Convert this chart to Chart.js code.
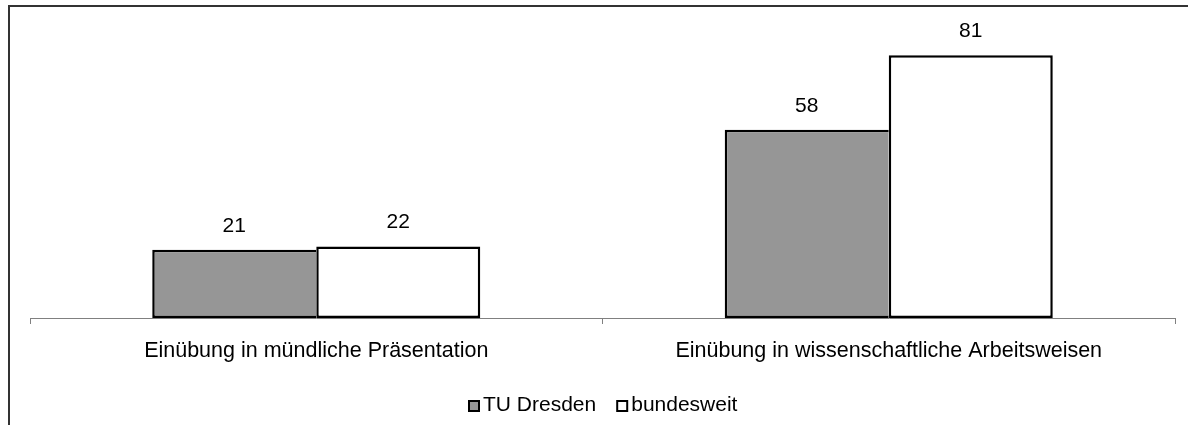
<!DOCTYPE html>
<html>
<head>
<meta charset="utf-8">
<script src="https://cdn.jsdelivr.net/npm/chart.js@4/dist/chart.umd.min.js"></script>
<style>
  html, body { margin: 0; padding: 0; background: #fff; overflow: hidden; }
  #wrap { position: relative; width: 1188px; height: 425px; }
  #frame { position: absolute; left: 8px; top: 5px; width: 1200px; height: 440px;
           border-left: 2px solid #333; border-top: 2px solid #333; box-sizing: border-box; }
  canvas { position: absolute; left: 0; top: 0; }
</style>
</head>
<body>
<div id="wrap">
  <div id="frame"></div>
  <canvas id="c" width="1188" height="425"></canvas>
</div>
<script>
const categories = ["Einübung in mündliche Präsentation", "Einübung in wissenschaftliche Arbeitsweisen"];
const seriesNames = ["TU Dresden", "bundesweit"];
const tuDresden = [21, 58];
const bundesweit = [22, 81];

const FONT = '"Liberation Sans", Arial, sans-serif';

const valueLabels = {
  id: 'valueLabels',
  afterDatasetsDraw(chart) {
    const ctx = chart.ctx;
    ctx.save();
    ctx.font = '21px ' + FONT;
    ctx.fillStyle = '#000';
    ctx.textAlign = 'center';
    ctx.textBaseline = 'middle';
    chart.data.datasets.forEach((ds, i) => {
      chart.getDatasetMeta(i).data.forEach((bar, j) => {
        ctx.fillText(String(ds.data[j]), bar.x, bar.y - 24);
      });
    });
    ctx.restore();
  }
};

const bottomLegend = {
  id: 'bottomLegend',
  afterDraw(chart) {
    const ctx = chart.ctx;
    ctx.save();
    ctx.font = '21px ' + FONT;
    ctx.textBaseline = 'middle';
    ctx.textAlign = 'left';
    const box = 12, gapText = 3, gapItem = 20;
    const items = chart.data.datasets.map(ds => ({ ds, w: ctx.measureText(ds.label).width }));
    let total = 0;
    items.forEach((it, i) => { total += box + gapText + it.w + (i < items.length - 1 ? gapItem : 0); });
    const cx = (chart.chartArea.left + chart.chartArea.right) / 2;
    let x = Math.round(cx - total / 2);
    const cy = 405.5;
    items.forEach(it => {
      const top = Math.round(cy - box / 2);
      ctx.fillStyle = it.ds.backgroundColor;
      ctx.fillRect(x, top, box, box);
      ctx.lineWidth = 2;
      ctx.strokeStyle = '#000';
      ctx.strokeRect(x + 1, top + 1, box - 2, box - 2);
      ctx.fillStyle = '#000';
      ctx.fillText(it.ds.label, x + box + gapText, cy);
      x += box + gapText + it.w + gapItem;
    });
    ctx.restore();
  }
};

new Chart(document.getElementById('c'), {
  type: 'bar',
  data: {
    labels: categories,
    datasets: [
      { label: seriesNames[0], data: tuDresden, backgroundColor: '#969696', borderColor: '#000',
        borderWidth: { left: 2.5, top: 2.5, right: 0, bottom: 2.5 }, borderSkipped: false,
        categoryPercentage: 0.573, barPercentage: 1.0 },
      { label: seriesNames[1], data: bundesweit, backgroundColor: '#ffffff', borderColor: '#000',
        borderWidth: { left: 2.5, top: 2.5, right: 2.5, bottom: 2.5 }, borderSkipped: false,
        categoryPercentage: 0.573, barPercentage: 1.0 }
    ]
  },
  options: {
    responsive: false,
    animation: false,
    layout: { padding: { left: 30, right: 13, top: 26, bottom: 0 } },
    plugins: {
      legend: { display: false },
      tooltip: { enabled: false }
    },
    scales: {
      x: {
        offset: true,
        grid: { display: true, drawOnChartArea: false, drawTicks: true, tickLength: 6, color: '#808080', offset: true },
        border: { display: true, color: '#808080', width: 1 },
        ticks: { font: { family: FONT, size: 21.5 }, color: '#000', padding: 14, maxRotation: 0 },
        afterFit(scale) { scale.height = 107; }
      },
      y: {
        display: false,
        min: 0,
        max: 90
      }
    }
  },
  plugins: [valueLabels, bottomLegend]
});
</script>
</body>
</html>
